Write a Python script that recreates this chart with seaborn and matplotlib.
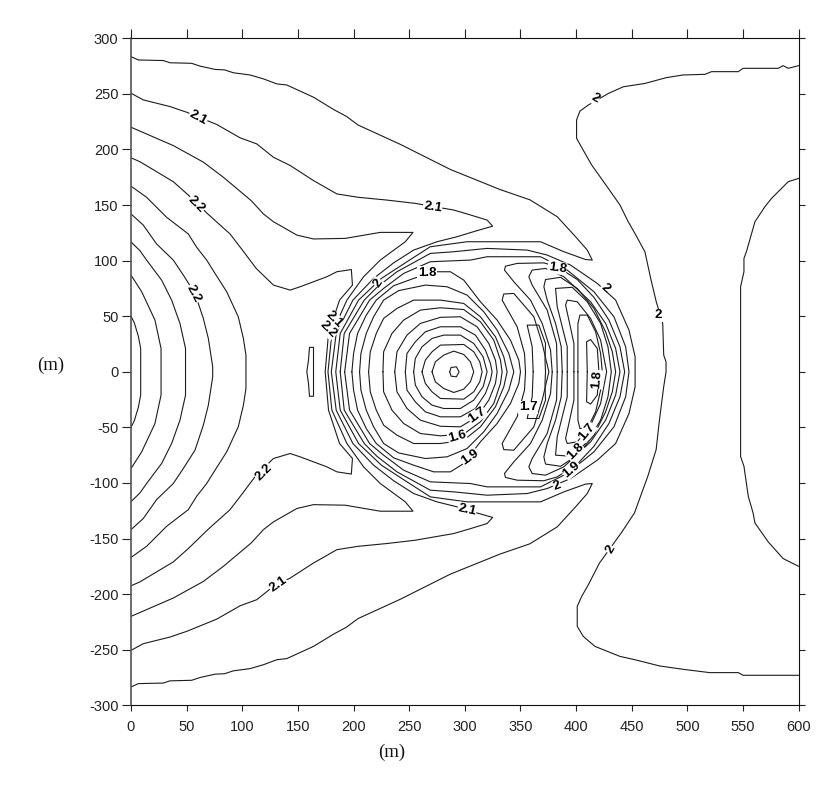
import matplotlib
matplotlib.use("Agg")
import matplotlib.pyplot as plt
import numpy as np
import pandas as pd
import seaborn as sns

# Contours open towards the left edge (upper half, symmetric about y = 0)
left_arc_1 = [(0,50),(3,44),(6.6,32),(8.7,21),(8.7,0)]
left_arc_2 = [(0,87),(9.6,72),(21.5,46.6),(27,21),(27,0)]
left_arc_3 = [(0,116.8),(8,109),(14,100.5),(27.5,82.5),(36.5,64.5),(44,43.5),(49,21),(49,0)]
left_arc_4 = [(0,142),(11,132),(23,115),(38,100.5),(47,87),(57.5,70.5),(65,48),(69.5,30),(73.4,4.6),(73.4,0)]
left_arc_5 = [(0,167),(14,157),(32,139),(51.5,124),(59,112),(68,100.5),(75.5,88.5),(86,72),(96.4,49.5),(101,30),(103.3,15),(103.3,0)]

open_1 = [(0,192.5),(8,189),(23,180),(38,171),(51.5,159),(69,142),(89,124),(100.5,109),(112.5,93),(128,78),(143,73.5),
          (152,76.5),(176,85.5),(185,90),(198,92),(199,78),(187.4,64.5),(177.5,34.5),(174.5,0)]
open_2 = [(0,220),(38,203.5),(65,188.6),(83,175),(108,154),(119,142),(128,135),(149,123),(164,119.5),(192.5,120),
          (224,125.4),(253.4,125.4),(246.5,117),(224,100.5),(209,85.5),(194,64.5),(180.5,34.5),(177,0)]
open_3 = [(0,250.6),(11,244.6),(35,238.6),(50,233.5),(77,222.5),(98,210.5),(113,205),(128,193),(143,185.6),(164,172),
          (185,160),(204,157),(229.7,154.5),(255.5,151.5),(290,145.5),(302,142),(320,136.5),(325,131),(311,127),
          (293,121.5),(275,117),(254,109.5),(236,98),(218,84),(199.4,64.5),(184.4,34.5),(180,0)]
open_4 = [(0,283.5),(6.6,280.5),(29,280),(35,278),(54.5,277.5),(62,275),(75.5,272),(84,271.6),(92,269),(107,267),
          (119,263.5),(131,259),(140,258),(152,252.5),(164,247),(182,236),(193.7,229.7),(204,222),(242,204.6),(287,182),
          (331.5,164),(358.5,154.7),(383,139.5),(399.5,121.5),(410,109.5),(414.5,100.5),(408.5,101),(389,108),(368,117),
          (320,117),(302,117),(269,112.5),(248,99),(225,84),(204.5,64.5),(188,34.5),(184,0)]

# Closed rings around the central minimum
ring_a = [(188,0),(191.6,34.5),(209.6,64.5),(221,76),(239,90),(269,106.5),(290,108),(320,111),(356,109.5),(374,105),
          (395,96),(419,79.5),(435.5,64.5),(447.5,37.5),(453,13.5),(453,0)]
ring_b = [(192,0),(196.4,34.5),(214.4,64.5),(227,75),(245,88.5),(269,99),(305,100.5),(320,103.5),(368,103.5),(392,91.5),
          (416,72),(434,49.5),(444.5,22.5),(447.5,0)]
ring_c = [(198.5,0),(200,16.5),(203.6,34.5),(211.4,51),(220.4,64.5),(236,77.4),(254,84),(272,90),(287,90),(299,82.5),
          (314,63),(329,46.5),(341,28.5),(348.5,10.5),(350,0)]
ring_d = [(205.4,0),(206.6,16.5),(211.4,34.5),(218,49.5),(227,64.5),(240.5,73),(264.5,78),(284,76.5),(302,69),(317,54),
          (329,37.5),(339.5,16.5),(344,0)]
ring_e = [(213.5,0),(215,18),(220.4,34.5),(227,48),(239,57),(254,64.5),(278,64.5),(299,61.5),(314,49.5),(327.5,31.5),
          (335,13.5),(338,0)]
ring_f = [(226.4,0),(227,18),(234.5,34.5),(245,46.5),(260,55.5),(278,57.6),(299,56),(314,45),(326,28.5),(332,10.5),(333.5,0)]
ring_g = [(237,0),(239,18),(248,33),(260,43.5),(278,49),(296,49.5),(311,40.5),(321.5,25.5),(327.5,10.5),(329,0)]
ring_h = [(246.5,0),(248,16.5),(255.5,27),(264.5,36),(278,40.5),(296,40.5),(309.5,33),(318.5,19.5),(323,7.5),(324.5,0)]
ring_i = [(254,0),(255.5,12),(261.5,22.5),(270.5,30),(281,33),(296,33),(308,25.5),(316.4,13.5),(320,0)]
ring_j = [(261.5,0),(264.5,10.5),(270.5,18),(278,24),(299,24.6),(308,18),(313.4,9),(315.5,0)]
ring_k = [(270.5,0),(273.5,9),(281,15),(290,18.6),(299,15.6),(305,9),(308,0)]
ring_l = [(286.4,0),(287.6,3.9),(292.4,4.5),(294.8,0)]

# Crescents on the right of the rings
lobe_a = [(361.4,0),(360.5,22.5),(356,42),(366.5,42),(372.5,25.5),(372,10.5),(372.5,0)]
lobe_b = [(354.5,0),(353.6,16.5),(347,40.5),(333.5,64.5),(335,70),(344,70.5),(362,49.5),(369.5,25.5),(375.5,0)]
lobe_c = [(378.5,0),(377,19.5),(369.5,43.5),(359,64.5),(344,81),(335.6,91.5),(336.5,95),(347,97.5),(371,98),(383,94.5),
          (401,83),(416,67),(429.5,46.5),(439.4,22.5),(443.6,0)]
lobe_d = [(383,0),(382.4,25.5),(374,55.5),(360.5,78),(357.5,85.5),(360.5,91.5),(372.5,93),(389,85.5),(413,63),(426.5,43.5),
          (435.5,21),(439.4,0)]
lobe_e = [(387.5,0),(386.6,22.5),(381.5,43.5),(374,64.5),(371,76.5),(372.5,83),(386,85),(401,75),(416,57),(426.5,36),
          (432.5,18),(435.5,0)]
lobe_f = [(392,0),(392,22.5),(387.5,40.5),(383,58.5),(381.5,75),(396.5,76),(410,63),(422,43.5),(428.6,22.5),(431.6,0)]
lobe_g = [(398,0),(398,25.5),(393.5,46.5),(390.5,60),(392,64.5),(401,63),(413,48),(422,28.5),(427.4,0)]
lobe_h = [(401.6,0),(401.6,43.5),(403.4,51),(410,51),(417.5,36),(422,16.5),(423.5,0)]
lobe_i = [(410,0),(409.4,27),(413,29),(419,21),(420.5,0)]

# Small lens left of the rings
lens = [(164,0),(164,22),(160.4,22),(159.5,10.5),(158,0)]

# Right-hand contours, traced over their full length
right_mid = [(600,275.4),(590.6,273),(586,275.4),(581.6,273),(550,273),(545.7,270),(521.7,270),(515.8,267.6),(496,267),
             (481,264.6),(461.8,259.4),(442.4,256.4),(429,250.4),(411,240),(403.4,234.5),(400.4,226.6),(400.4,210),
             (408,196.5),(414,186),(428.9,165),(439.4,150),(446.8,135),(452.8,124.5),(461.8,108),(467,84),(472,63),
             (477.8,43.6),(478.7,15),(480.8,9),(480.8,0),(478.7,-13.4),(474.9,-43),(471.9,-70),(464.4,-94),(452.4,-127),
             (440.5,-145),(421,-172),(410.9,-191.7),(405,-202),(401,-211),(401,-229),(406.4,-238),(416.9,-247),
             (439.4,-256),(452.8,-259),(475,-264.6),(496,-267.6),(520,-270.6),(545.7,-270.6),(550,-273),(600,-273)]
right_far = [(600,174),(590.6,171),(575.6,156),(569.6,148.5),(560.7,135),(557.7,124.5),(553,108),(550.8,102),(550.8,90),
             (547.8,76.6),(547.8,0),(547.8,-76.3),(550.8,-85),(554.7,-112),(559,-127),(560.7,-136),(572.6,-153),
             (586,-168),(600,-175)]

# Contour labels: text, x, y, rotation
contour_labels = [
    ("2.1", 60.5, 229, -28), ("2.2", 59, 151, -45), ("2.2", 56, 70, -62),
    ("2.1", 271, 148, -8), ("2", 222, 80, 55), ("1.8", 266, 89, 0),
    ("1.8", 383, 93.5, -8), ("2", 426, 75.5, -42), ("1.8", 419, -7, 85),
    ("1.7", 311, -39, 35), ("1.6", 293, -58, 15), ("1.9", 304.6, -77, 35),
    ("1.7", 356.7, -32, 0), ("1.7", 410, -54, 50), ("1.8", 399, -72, 45),
    ("1.9", 396, -88, 40), ("2", 383, -103, 20), ("2.1", 302, -124, -12),
    ("2.1", 183, 47, -45), ("2.2", 177, 38, -45),
    ("2.2", 119, -90, 45), ("2.1", 132, -191, 35),
    ("2", 417, 246, -30), ("2", 474, 51, 0), ("2", 431, -160, 60),
]

x_ticks = list(range(0, 601, 50))
y_ticks = list(range(-300, 301, 50))
x_label = "(m)"
y_label = "(m)"


def mirrored(upper):
    """Extend a half contour that ends on y = 0 across the symmetry axis."""
    return upper + [(x, -y) for x, y in reversed(upper[:-1])]


symmetric = [left_arc_1, left_arc_2, left_arc_3, left_arc_4, left_arc_5,
             open_1, open_2, open_3, open_4,
             ring_a, ring_b, ring_c, ring_d, ring_e, ring_f, ring_g, ring_h,
             ring_i, ring_j, ring_k, ring_l,
             lobe_a, lobe_b, lobe_c, lobe_d, lobe_e, lobe_f, lobe_g, lobe_h, lobe_i,
             lens]
curves = [mirrored(c) for c in symmetric] + [right_mid, right_far]

frames = [pd.DataFrame(c, columns=["x", "y"]).assign(curve=i, order=range(len(c)))
          for i, c in enumerate(curves)]
contours = pd.concat(frames, ignore_index=True)

sns.set_style("ticks")
plt.rcParams["font.family"] = ["Liberation Sans", "DejaVu Sans"]

W, H = 837, 788
fig = plt.figure(figsize=(W / 100, H / 100), dpi=100)
ax = fig.add_axes([131 / W, (H - 705.3) / H, 667.7 / W, 667 / H])

sns.lineplot(data=contours, x="x", y="y", units="curve", estimator=None, sort=False,
             color="#1c1c1c", linewidth=0.8, legend=False, ax=ax)

ax.set_xlim(0, 600)
ax.set_ylim(-300, 300)
ax.set_xticks(x_ticks)
ax.set_yticks(y_ticks)
ax.tick_params(top=True, right=True, labelsize=10.5, width=0.8, color="#222222", labelcolor="#222222")
ax.tick_params(axis="x", pad=7)
ax.tick_params(axis="y", pad=5.5)

for t in ax.yaxis.get_major_ticks():
    t.tick1line.set_markersize(6.5)
    t.tick2line.set_markersize(4.3)
for t in ax.xaxis.get_major_ticks():
    t.tick1line.set_markersize(4.3)
    t.tick2line.set_markersize(6.5)
ax.set_yticklabels([str(v) for v in y_ticks])
ax.set_xticklabels([str(v) for v in x_ticks])

for side in ax.spines.values():
    side.set_visible(True)
    side.set_linewidth(0.8)
    side.set_color("#111111")
ax.spines["left"].set_linewidth(1.2)
ax.spines["left"].set_color("#555555")

ax.set_xlabel(x_label, family="Liberation Serif", fontsize=13.5, color="#111111", va="center")
ax.set_ylabel(y_label, family="Liberation Serif", fontsize=13.5, color="#111111", rotation=0, va="center", ha="center")
ax.xaxis.set_label_coords(0.391, -0.07)
ax.yaxis.set_label_coords(-0.12, 0.51)

for text, x, y, rot in contour_labels:
    ax.text(x, y, text, rotation=rot, rotation_mode="anchor", ha="center", va="center",
            fontsize=9.5, fontweight="bold", color="black", zorder=5,
            bbox=dict(facecolor="white", edgecolor="none", pad=0.3))

fig.savefig("out.png", dpi=100, facecolor="white")
